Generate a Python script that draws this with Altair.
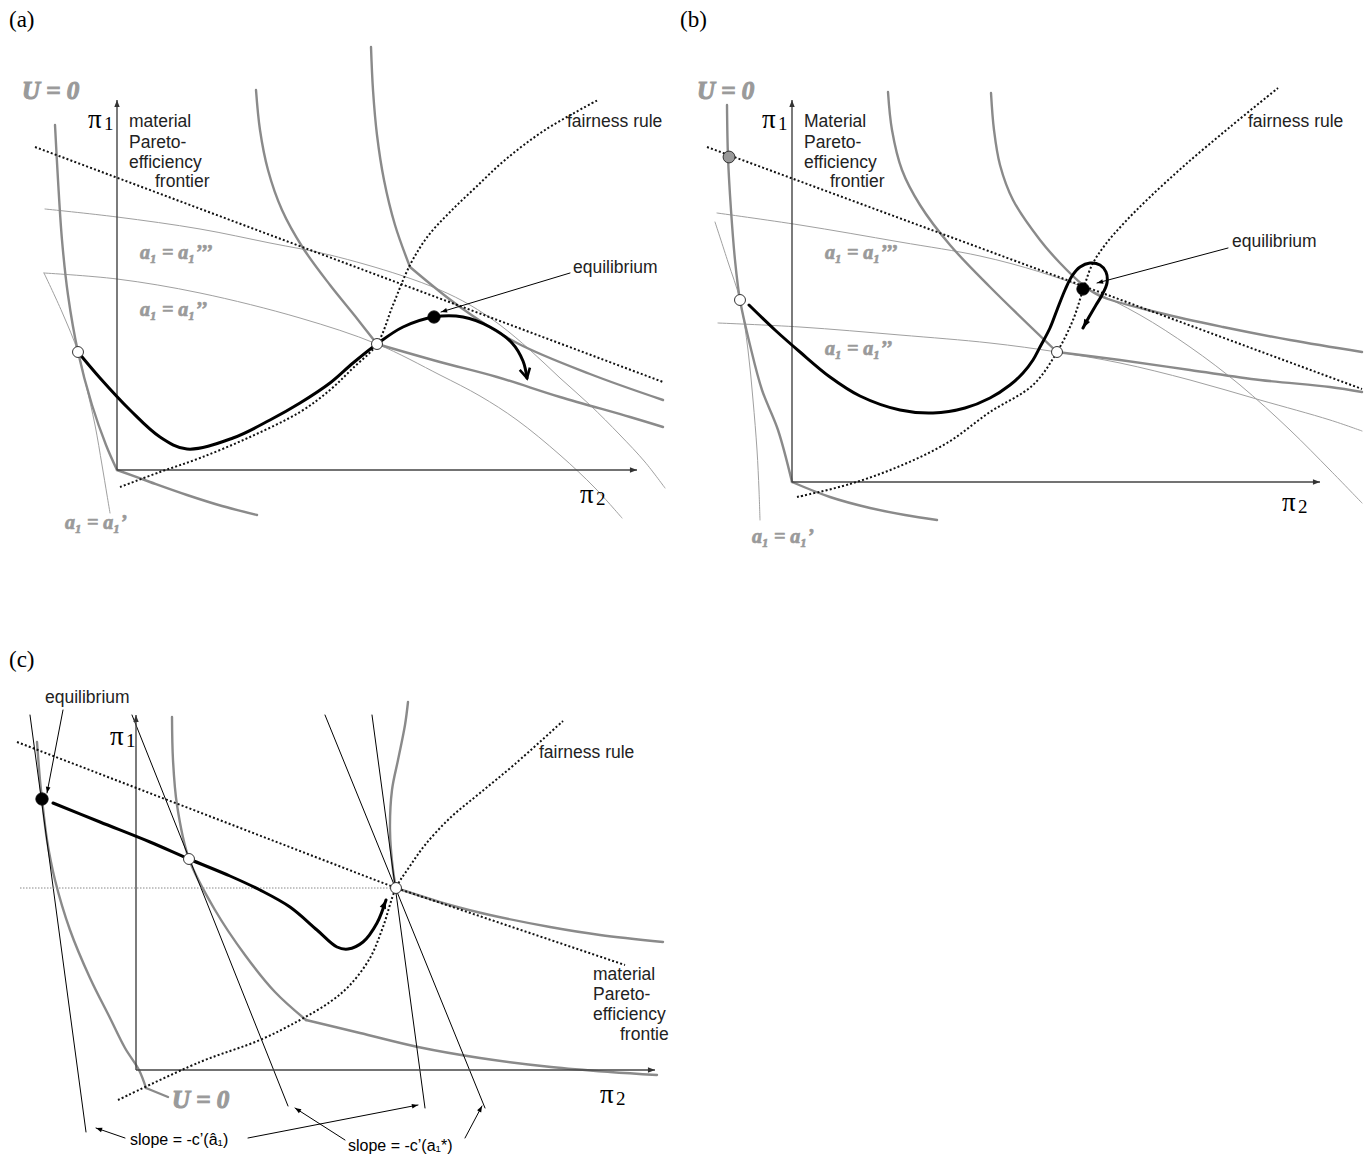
import math
import altair as alt
import pandas as pd

# ---------------- panel (a) ----------------
A_U0_UPPER = [(55,125),(58,180),(62,240),(68,295),(78,352),(92,405),(106,445),(117,470)]
A_U0_LOWER = [(117,470),(150,482),(187,495),(222,506),(257,515)]
A_UMID_UPPER = [(256,90),(260,130),(268,170),(282,210),(303,248),(330,285),(355,316),(377,344)]
A_UMID_LOWER = [(377,344),(440,362),(497,377),(560,397),(630,417),(663,427)]
A_URIGHT_UPPER = [(371,47),(373,90),(377,135),(384,180),(395,225),(410,267)]
A_URIGHT_LOWER = [(410,267),(460,307),(517,343),(590,374),(663,400)]
A_THIN_1 = [(44,273),(62,312),(78,352),(86,385),(95,425),(102,465),(107,495),(110,513)]
A_THIN_2 = [(44,273),(117,279),(200,293),(300,318),(377,344),(440,375),(480,396),(517,420),(560,455),(595,488),(622,518)]
A_THIN_3 = [(45,209),(117,217),(200,229),(270,243),(330,255),(400,275),(440,290),(470,305),(500,325),(530,350),(560,378),(590,405),(620,435),(645,462),(665,488)]
A_FRONTIER = [(35,147),(663,382)]
A_FAIRNESS = [(120,487),(160,472),(200,458),(250,437),(300,412),(330,390),(353,368),(377,344),(393,305),(410,265),(428,236),(450,212),(475,188),(505,160),(545,130),(598,100)]
A_PATH = [(78,352),(100,378),(130,410),(160,437),(187,449),(233,438),(270,420),(300,403),(330,383),(353,363),(377,344),(403,327),(434,317),(463,317),(490,327),(512,343),(523,361),(527,378)]
A_AXIS_Y = [(117,470),(117,100)]
A_AXIS_X = [(117,470),(637,470)]
A_LEADER = [(570,273),(441,312)]

# ---------------- panel (b) ----------------
B_U0_UPPER = [(727,105),(728,157),(731,210),(735,260),(740,300),(750,345),(762,390),(778,430),(792,482)]
B_U0_LOWER = [(792,482),(830,497),(870,508),(905,515),(937,520)]
B_UMID_UPPER = [(888,92),(892,130),(902,170),(920,205),(950,245),(990,287),(1057,352)]
B_UMID_LOWER = [(1057,352),(1120,360),(1190,370),(1260,380),(1330,387),(1362,392)]
B_URIGHT = [(991,93),(994,130),(1000,165),(1013,200),(1040,240),(1060,263),(1083,285),(1100,296),(1160,313),(1223,327),(1290,340),(1362,352)]
B_THIN_1 = [(715,222),(728,262),(740,300),(748,350),(753,400),(757,450),(759,490),(760,520)]
B_THIN_2 = [(718,323),(800,327),(900,335),(990,343),(1057,352),(1120,363),(1190,380),(1260,400),(1330,420),(1362,431)]
B_THIN_3 = [(717,213),(800,225),(900,242),(980,256),(1040,272),(1090,290),(1140,315),(1190,347),(1240,385),(1290,430),(1330,470),(1362,503)]
B_FRONTIER = [(707,147),(1362,389)]
B_FAIRNESS = [(797,497),(850,484),(900,466),(947,443),(990,412),(1033,385),(1057,352),(1073,320),(1083,290),(1092,265),(1105,245),(1125,222),(1150,197),(1185,165),(1230,127),(1278,88)]
B_PATH = [(749,305),(775,330),(800,352),(830,377),(860,396),(900,410),(933,413),(965,408),(990,398),(1010,385),(1023,373),(1033,360),(1040,347),(1050,328),(1057,310),(1065,290),(1072,276),(1080,267),(1090,263),(1100,265),(1106,272),(1107,283),(1102,295),(1096,305),(1089,317),(1083,328)]
B_AXIS_Y = [(792,482),(792,100)]
B_AXIS_X = [(792,482),(1320,482)]
B_LEADER = [(1228,248),(1097,283)]

# ---------------- panel (c) ----------------
C_U0 = [(37,742),(40,780),(42,799),(47,840),(55,880),(70,930),(90,978),(110,1018),(125,1048),(139,1070),(146,1088)]
C_U0_TAIL = [(146,1088),(168,1097)]
C_UMID_UPPER = [(172,717),(173,760),(177,805),(189,859),(215,910),(245,955),(275,992),(306,1020)]
C_UMID_LOWER = [(306,1020),(360,1033),(418,1047),(480,1058),(551,1067),(610,1072),(657,1075)]
C_URIGHT_UPPER = [(408,702),(405,725),(398,760),(392,790),(390,830),(393,870),(396,888)]
C_URIGHT_LOWER = [(396,888),(450,905),(490,915),(550,927),(600,935),(663,942)]
C_FRONTIER = [(17,742),(396,888),(625,965)]
C_LEVEL = [(20,888),(396,888)]
C_FAIRNESS = [(118,1100),(200,1062),(260,1040),(300,1020),(330,1002),(350,985),(370,958),(383,927),(396,888),(410,866),(425,845),(450,818),(480,793),(515,764),(563,721)]
C_PATH = [(53,803),(100,822),(150,842),(189,859),(230,876),(260,890),(290,907),(317,930),(337,947),(348,949),(363,942),(377,923),(386,900)]
C_SLOPE_1 = [(30,715),(86,1132)]
C_SLOPE_2 = [(132,715),(288,1106)]
C_SLOPE_A = [(325,715),(485,1108)]
C_SLOPE_B = [(372,715),(425,1108)]
C_AXIS_Y = [(136,1070),(136,715)]
C_AXIS_X = [(136,1070),(655,1070)]
C_LEADER = [(63,710),(47,793)]
C_SLOPE_ARROW_1 = [(125,1138),(96,1128)]
C_SLOPE_ARROW_2 = [(248,1138),(418,1105)]
C_SLOPE_ARROW_3 = [(345,1140),(295,1108)]
C_SLOPE_ARROW_4 = [(465,1138),(482,1106)]

# ---------------- markers ----------------
WHITE_PTS = [(78,352),(377,344),(740,300),(1057,352),(189,859),(396,888)]
BLACK_PTS = [(434,317),(1083,289),(42,799)]
GRAY_PTS = [(729,157)]

# ---------------- texts ----------------
PANEL_LABELS = [("(a)",9,20),("(b)",680,20),("(c)",9,660)]
U0_LABELS = [("U = 0",22,91),("U = 0",697,91),("U = 0",172,1100)]
A1_LABELS = [("a\u2081 = a\u2081\u2019\u2019\u2019",140,253),("a\u2081 = a\u2081\u2019\u2019",140,310),("a\u2081 = a\u2081\u2019",65,523),
             ("a\u2081 = a\u2081\u2019\u2019\u2019",825,253),("a\u2081 = a\u2081\u2019\u2019",825,349),("a\u2081 = a\u2081\u2019",752,537)]
PI_LABELS = [("\u03c0",88,120),("\u03c0",580,495),("\u03c0",762,120),("\u03c0",1282,503),("\u03c0",110,737),("\u03c0",600,1095)]
PI_INDEX = [("1",104,124),("2",596,499),("1",778,124),("2",1298,507),("1",126,741),("2",616,1099)]
SANS_LABELS = [("material",129,122),("Pareto-",129,143),("efficiency",129,163),("frontier",155,182),
               ("fairness rule",567,122),("equilibrium",573,268),
               ("Material",804,122),("Pareto-",804,143),("efficiency",804,163),("frontier",830,182),
               ("fairness rule",1248,122),("equilibrium",1232,242),
               ("equilibrium",45,698),("fairness rule",539,753),
               ("material",593,975),("Pareto-",593,995),("efficiency",593,1015),("frontie",620,1035)]
SLOPE_LABELS = [("slope = -c\u2019(\u00e2\u2081)",130,1140),("slope = -c\u2019(a\u2081*)",348,1146)]

# ---------------- chart ----------------
XS = alt.Scale(domain=[8, 1364], nice=False, zero=False)
YS = alt.Scale(domain=[8, 1156], nice=False, zero=False, reverse=True)
X = alt.X("x:Q", scale=XS, axis=None)
Y = alt.Y("y:Q", scale=YS, axis=None)

GRAY_THICK = "#8a8a8a"
GRAY_THIN = "#a0a0a0"
layers = []


def line(pts, color, width, dash=None, interp="catmull-rom", cap="round"):
    df = pd.DataFrame({"x": [p[0] for p in pts], "y": [p[1] for p in pts], "o": list(range(len(pts)))})
    kw = dict(color=color, strokeWidth=width, interpolate=interp, strokeCap=cap)
    if dash:
        kw["strokeDash"] = dash
    layers.append(alt.Chart(df).mark_line(**kw).encode(x=X, y=Y, order="o:Q"))


for c in [A_THIN_1, A_THIN_2, A_THIN_3, B_THIN_1, B_THIN_2, B_THIN_3]:
    line(c, GRAY_THIN, 1)
for c in [A_U0_UPPER, A_U0_LOWER, A_UMID_UPPER, A_UMID_LOWER, A_URIGHT_UPPER, A_URIGHT_LOWER,
          B_U0_UPPER, B_U0_LOWER, B_UMID_UPPER, B_UMID_LOWER, B_URIGHT,
          C_U0, C_U0_TAIL, C_UMID_UPPER, C_UMID_LOWER, C_URIGHT_UPPER, C_URIGHT_LOWER]:
    line(c, GRAY_THICK, 2.4)
for c in [C_SLOPE_1, C_SLOPE_2, C_SLOPE_A, C_SLOPE_B]:
    line(c, "#000000", 1, interp="linear")
for c in [A_AXIS_Y, A_AXIS_X, B_AXIS_Y, B_AXIS_X, C_AXIS_Y, C_AXIS_X]:
    line(c, "#444444", 1.4, interp="linear", cap="butt")
line(C_LEVEL, "#888888", 1, dash=[1.5, 1.5], interp="linear", cap="butt")
for c in [A_FRONTIER, B_FRONTIER, C_FRONTIER]:
    line(c, "#111111", 2, dash=[2, 2.2], interp="linear", cap="butt")
for c in [A_FAIRNESS, B_FAIRNESS, C_FAIRNESS]:
    line(c, "#111111", 2, dash=[2, 2.2], cap="butt")
for c in [A_LEADER, B_LEADER, C_LEADER, C_SLOPE_ARROW_1, C_SLOPE_ARROW_2, C_SLOPE_ARROW_3, C_SLOPE_ARROW_4]:
    line(c, "#000000", 1, interp="linear")
for c in [A_PATH, B_PATH, C_PATH]:
    line(c, "#000000", 3)


def heading(pts):
    (px, py), (tx, ty) = pts[-2], pts[-1]
    ang = math.degrees(math.atan2(tx - px, -(ty - py)))
    return {"x": tx, "y": ty, "angle": ang % 360}


FILLED_HEAD = "M0,0L-0.38,1L0.38,1Z"
OPEN_HEAD = "M-0.55,1L0,0L0.55,1"


def heads(curves, size, color="#000000", filled=True, shape=FILLED_HEAD, sw=0):
    df = pd.DataFrame([heading(c) for c in curves])
    layers.append(alt.Chart(df).mark_point(shape=shape, filled=filled, size=size, color=color,
                                           opacity=1, strokeWidth=sw, strokeJoin="miter")
                  .encode(x=X, y=Y, angle=alt.Angle("angle:Q", scale=None)))


heads([A_AXIS_Y, A_AXIS_X, B_AXIS_Y, B_AXIS_X, C_AXIS_Y, C_AXIS_X], 200, "#333333")
heads([A_LEADER, B_LEADER, C_LEADER, C_SLOPE_ARROW_1, C_SLOPE_ARROW_2, C_SLOPE_ARROW_3, C_SLOPE_ARROW_4], 150)
heads([B_PATH, C_PATH], 300)
heads([A_PATH], 360, filled=False, shape=OPEN_HEAD, sw=2.6)


def points(pts, fill, size, stroke="#333333"):
    df = pd.DataFrame({"x": [p[0] for p in pts], "y": [p[1] for p in pts]})
    layers.append(alt.Chart(df).mark_point(shape="circle", filled=True, fill=fill, stroke=stroke,
                                           strokeWidth=1, size=size, opacity=1)
                  .encode(x=X, y=Y))


points(WHITE_PTS, "#ffffff", 120)
points(GRAY_PTS, "#999999", 140)
points(BLACK_PTS, "#000000", 150, stroke="#000000")


def texts(items, **kw):
    df = pd.DataFrame({"t": [i[0] for i in items], "x": [i[1] for i in items], "y": [i[2] for i in items]})
    layers.append(alt.Chart(df).mark_text(align="left", baseline="middle", **kw)
                  .encode(x=X, y=Y, text="t:N"))


texts(PANEL_LABELS, font="Liberation Serif", fontSize=23, color="#000000")
texts(U0_LABELS, font="Liberation Serif", fontSize=25, fontWeight=700, fontStyle="italic",
      fill="#9a9a9a", stroke="#9a9a9a", strokeWidth=1.1)
texts(A1_LABELS, font="Liberation Serif", fontSize=20, fontWeight=700, fontStyle="italic",
      fill="#9a9a9a", stroke="#9a9a9a", strokeWidth=0.7)
texts(PI_LABELS, font="Liberation Serif", fontSize=27, color="#000000")
texts(PI_INDEX, font="Liberation Serif", fontSize=19, color="#000000")
texts(SANS_LABELS, font="Liberation Sans", fontSize=17.5, color="#222222")
texts(SLOPE_LABELS, font="Liberation Sans", fontSize=16, color="#000000")

chart = alt.layer(*layers).properties(
    width=1356, height=1148, padding=0, autosize=alt.AutoSizeParams(type="none")
).configure_view(stroke=None)

chart.save("out.html", embed_options={"renderer": "svg", "actions": False})
